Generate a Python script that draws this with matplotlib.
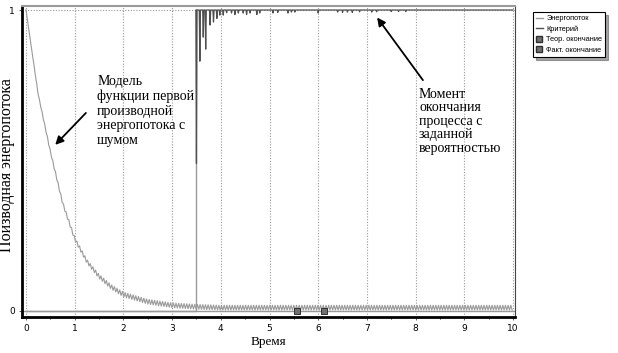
import numpy as np
import matplotlib.pyplot as plt
from matplotlib.lines import Line2D

# trend of the noisy derivative curve
trend_t = [0.0, 0.25, 0.5, 0.75, 1.0, 1.25, 1.5, 1.75, 2.0, 2.5, 3.0, 3.5, 4.0, 10.0]
trend_v = [1.0, 0.72, 0.53, 0.36, 0.24, 0.165, 0.115, 0.08, 0.055, 0.031, 0.019, 0.014, 0.011, 0.011]
# ripple half-height and half-period of the zigzag noise
ripple_t = [0.0, 0.5, 1.0, 2.0, 10.0]
ripple_a = [0.0, 0.004, 0.006, 0.008, 0.008]
ripple_step = 0.0275

# criterion: 0 until the jump, then 1 with dips (time, value at dip bottom)
jump_t = 3.49
dip_t = [3.50, 3.57, 3.64, 3.69, 3.78, 3.85, 3.92, 3.98, 4.05, 4.12, 4.22, 4.29, 4.36,
         4.46, 4.53, 4.60, 4.74, 4.80, 5.07, 5.17, 5.38, 5.45, 5.52, 6.00, 6.40, 6.50,
         6.60, 6.70, 6.85, 7.10, 7.20, 7.50, 7.65, 7.80]
dip_v = [0.49, 0.83, 0.91, 0.87, 0.95, 0.96, 0.972, 0.983, 0.983, 0.991, 0.99, 0.985, 0.99,
         0.99, 0.985, 0.99, 0.985, 0.99, 0.99, 0.992, 0.99, 0.993, 0.993, 0.99, 0.993, 0.992,
         0.993, 0.992, 0.994, 0.993, 0.994, 0.995, 0.995, 0.995]

theor_end = 5.56
fact_end = 6.12

# build the zigzag signal
n = int(10 / ripple_step) + 1
ts = np.arange(n) * ripple_step
sign = np.where(np.arange(n) % 2 == 0, 1.0, -1.0)
energy = np.interp(ts, trend_t, trend_v) + np.interp(ts, ripple_t, ripple_a) * sign
energy[0] = 1.0

# criterion polyline
crit_x = [jump_t]
crit_y = [1.0]
for t, v in zip(dip_t, dip_v):
    crit_x += [t - 0.012, t, t + 0.012]
    crit_y += [1.0, v, 1.0]
crit_x.append(10.0)
crit_y.append(1.0)

fig = plt.figure(figsize=(6.18, 3.53), dpi=100)
ax = fig.add_axes([22 / 618, 36 / 353, 493 / 618, 311 / 353])

light = '#9a9a9a'
dark = '#505050'

for k in range(11):
    ax.axvline(k, color='#999999', lw=0.8, ls=(0, (1, 1.5)), zorder=1)
ax.axhline(1, color='#999999', lw=0.8, ls=(0, (1, 1.5)), zorder=1)
ax.axhline(0, color=light, lw=1.0, zorder=1)

ax.plot(ts, energy, color=light, lw=0.8, zorder=3)
ax.plot([0, jump_t, jump_t], [0, 0, 1], color=light, lw=1.0, zorder=3)
ax.plot(crit_x, crit_y, color=dark, lw=0.9, zorder=4)

ax.plot([theor_end], [0], marker='s', ms=5, mfc='#707070', mec='#303030', mew=0.7, ls='none', zorder=5)
ax.plot([fact_end], [0], marker='s', ms=5, mfc='#707070', mec='#303030', mew=0.7, ls='none', zorder=5)

ax.set_xlim(-4 / 48.7, 10 + 2 / 48.7)
ax.set_ylim(-6 / 301, 1 + 4 / 301)
ax.set_xticks(range(11))
ax.set_xticks(np.arange(0.5, 10, 1), minor=True)
ax.set_yticks([0, 1])
ax.tick_params(axis='both', labelsize=6.5, length=2, width=0.6, color='#444444', pad=3)
ax.tick_params(axis='x', which='minor', length=1.5, width=0.6)

for side in ('left', 'bottom'):
    ax.spines[side].set_color('black')
    ax.spines[side].set_linewidth(2)
ax.spines['top'].set_color('#9a9a9a')
ax.spines['top'].set_linewidth(1.5)
ax.spines['right'].set_color('#444444')
ax.spines['right'].set_linewidth(0.8)

serif = 'Liberation Serif'
ax.set_xlabel('Время', family=serif, fontsize=9.5, labelpad=2)
ax.set_ylabel('Поизводная энергопотока', family=serif, fontsize=11.5)
ax.yaxis.set_label_coords(-7 / 493, 0.49)

arrow = dict(arrowstyle='-|>', color='black', lw=1.3, mutation_scale=12, shrinkA=0, shrinkB=0)

ax.text(1.46, 0.784, 'Модель\nфункции первой\nпроизводной\nэнергопотока с\nшумом',
        family=serif, fontsize=10, va='top', ha='left', linespacing=1.15, zorder=6)
ax.annotate('', xy=(0.60, 0.552), xytext=(1.23, 0.658), arrowprops=arrow)

ax.text(8.07, 0.741, 'Момент\nокончания\nпроцесса с\nзаданной\nвероятностью',
        family=serif, fontsize=10, va='top', ha='left', linespacing=1.05, zorder=6)
ax.annotate('', xy=(7.21, 0.975), xytext=(8.15, 0.767), arrowprops=arrow)

handles = [
    Line2D([], [], color=light, lw=1),
    Line2D([], [], color=dark, lw=1),
    Line2D([], [], marker='s', ms=4, mfc='#707070', mec='#303030', ls='none'),
    Line2D([], [], marker='s', ms=4, mfc='#707070', mec='#303030', ls='none'),
]
labels = ['Энергопоток', 'Критерий', 'Теор. окончание', 'Факт. окончание']
leg = fig.legend(handles, labels, loc='upper left', bbox_to_anchor=(533 / 618, 1 - 12 / 353),
                 prop={'family': 'Liberation Sans', 'size': 5.3}, frameon=True, fancybox=False,
                 shadow=True, handlelength=0.9, handletextpad=0.5, labelspacing=0.45,
                 borderpad=0.4, borderaxespad=0)
leg.get_frame().set_edgecolor('black')
leg.get_frame().set_linewidth(0.8)

fig.savefig('out.png', dpi=100)
